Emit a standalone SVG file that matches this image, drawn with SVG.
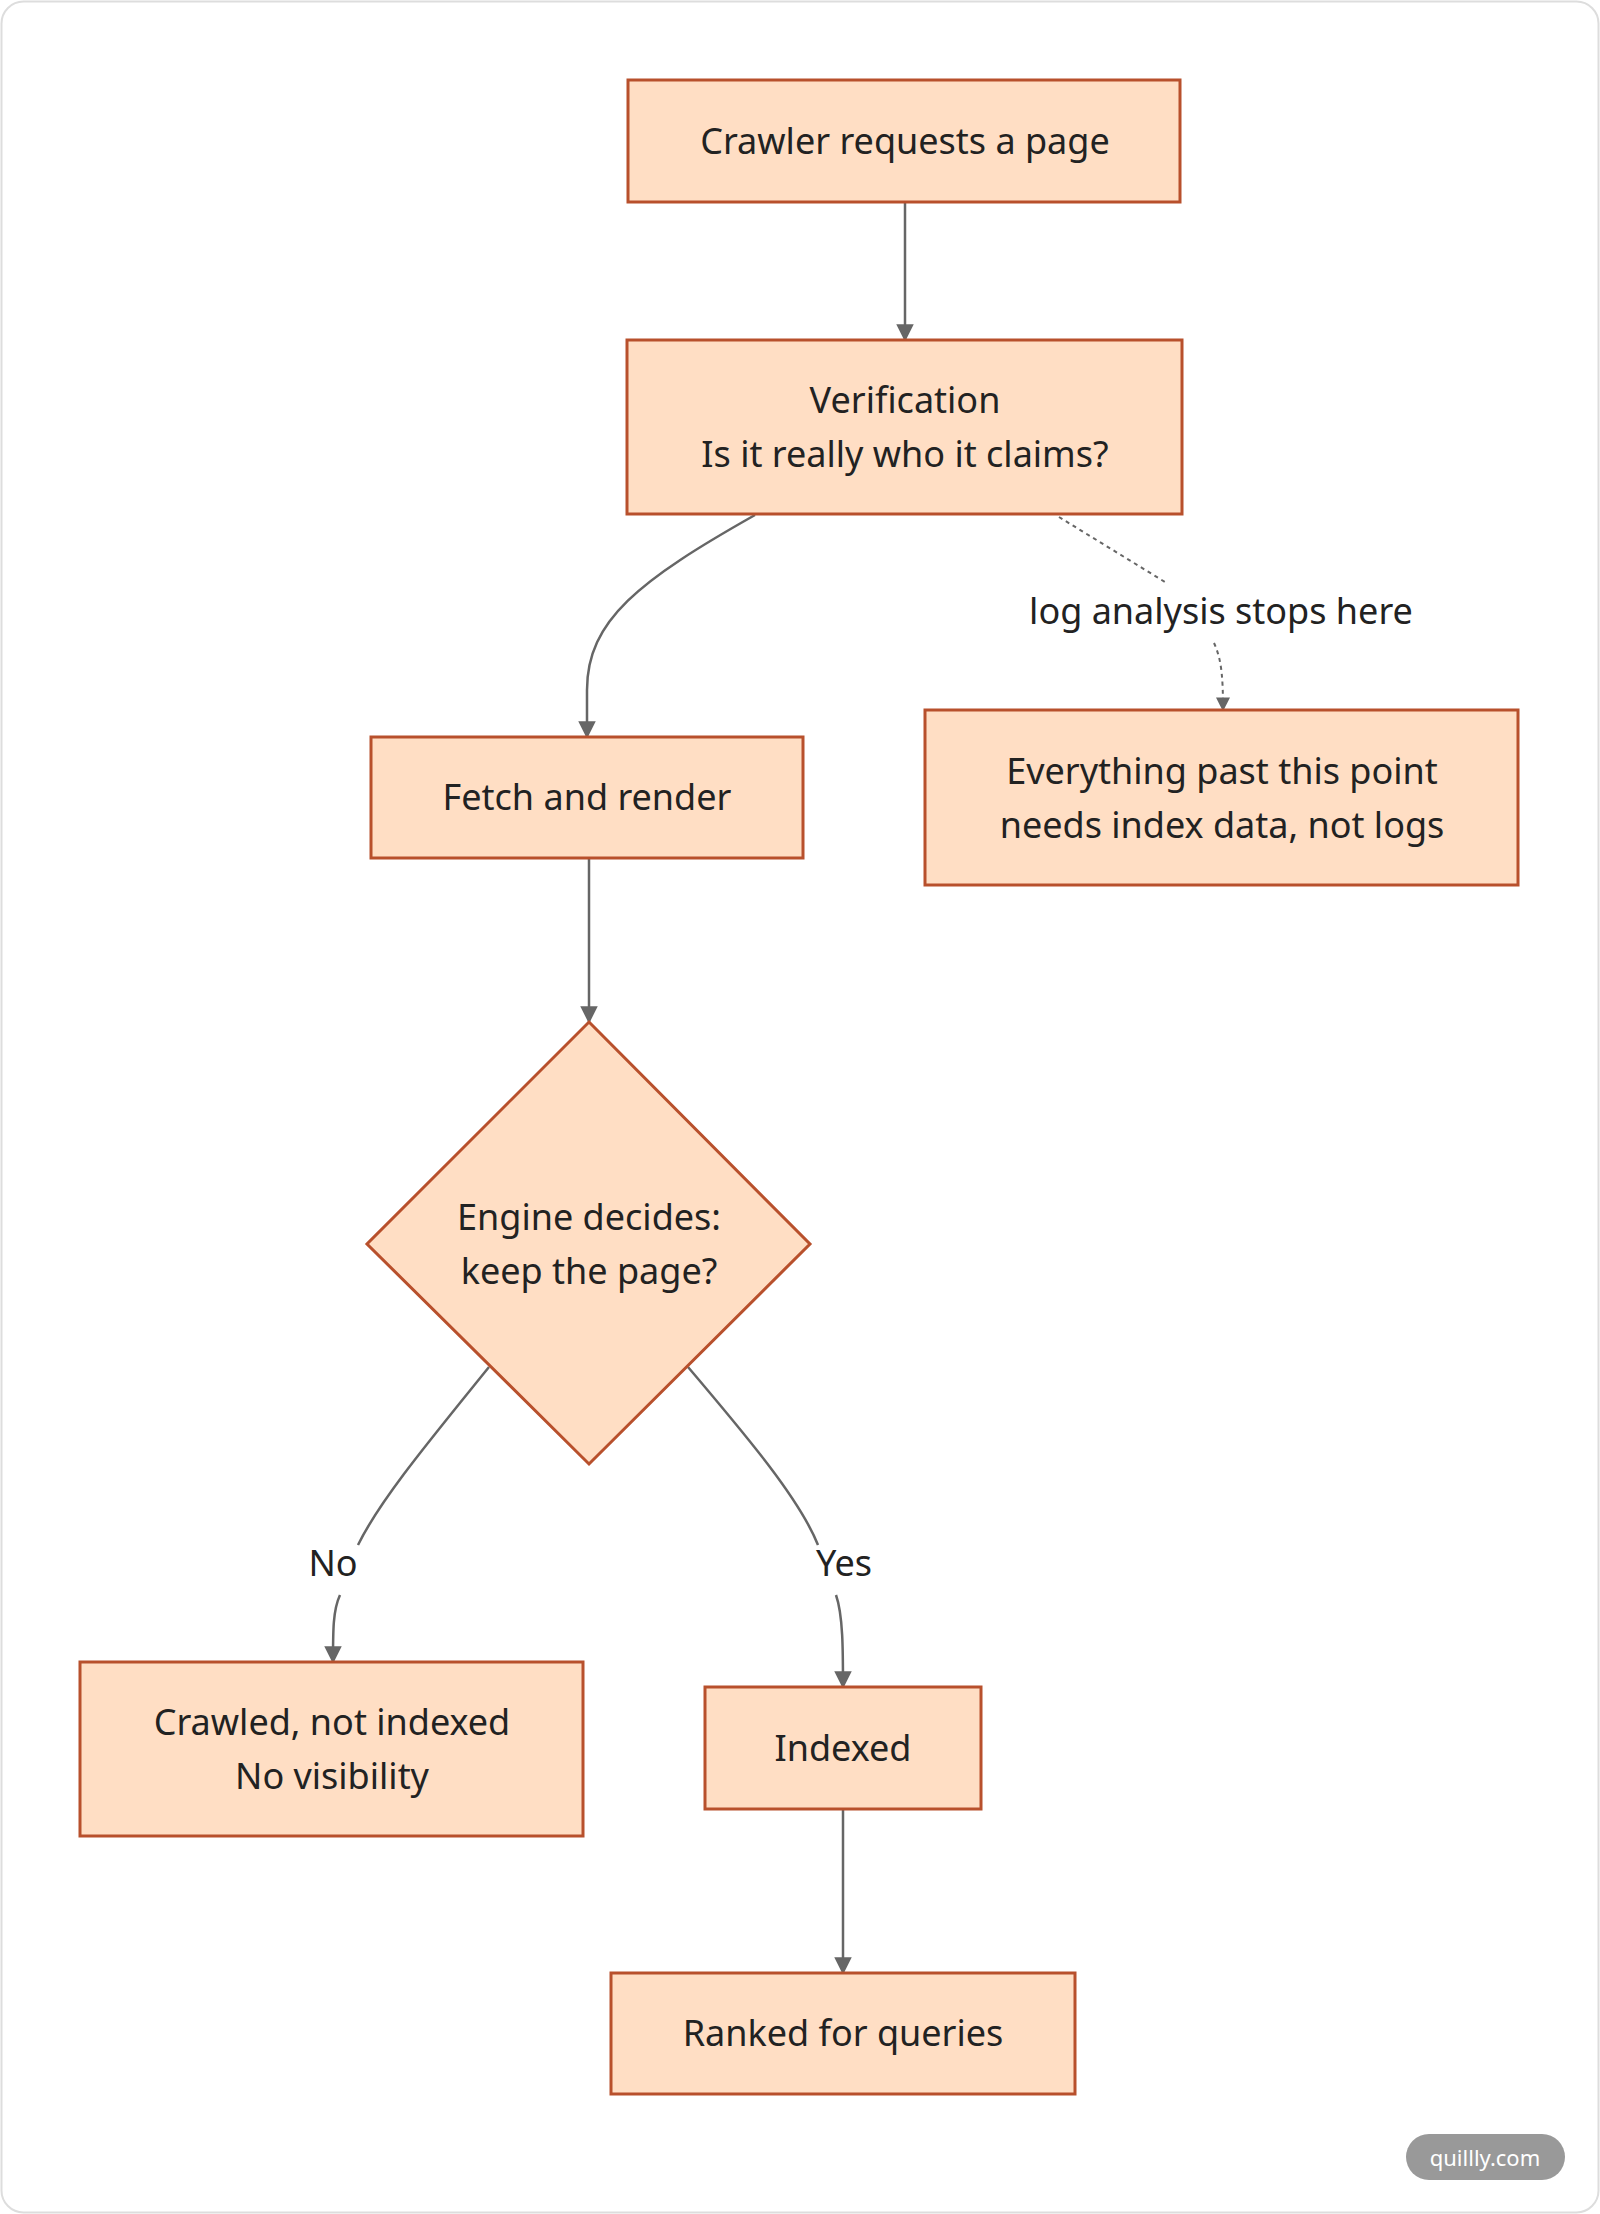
<svg xmlns="http://www.w3.org/2000/svg" width="1600" height="2214" viewBox="0 0 1600 2214">
<style>
.n{fill:#FFDEC4;stroke:#B8502C;stroke-width:3}
.t{font-family:"Noto Sans","Open Sans",sans-serif;font-size:36px;fill:#222;text-anchor:middle}
.e{fill:none;stroke:#666;stroke-width:2.5}
.d{fill:none;stroke:#666;stroke-width:2;stroke-dasharray:4 4}
</style>
<defs><marker id="a" viewBox="0 0 10 10" refX="9" refY="5" markerWidth="7" markerHeight="7" orient="auto"><path d="M0,0L10,5L0,10z" fill="#666"/></marker></defs>
<rect x="1.5" y="1.5" width="1597" height="2211" rx="22" fill="#fff" stroke="#ddd" stroke-width="2"/>
<g id="edges">
<path class="e" d="M905,202V340" marker-end="url(#a)"/>
<path class="e" d="M755,515C640,580 587,620 587,690V737" marker-end="url(#a)"/>
<path class="d" d="M1059,517L1165,582"/>
<path class="d" d="M1214,643C1222,660 1223,680 1223,710" marker-end="url(#a)"/>
<path class="e" d="M589,858V1022" marker-end="url(#a)"/>
<path class="e" d="M489,1367C430,1440 380,1500 358,1545"/>
<path class="e" d="M340,1595C333,1610 333,1630 333,1662" marker-end="url(#a)"/>
<path class="e" d="M688,1367C750,1440 800,1500 818,1545"/>
<path class="e" d="M836,1595C843,1615 843,1650 843,1687" marker-end="url(#a)"/>
<path class="e" d="M843,1809V1973" marker-end="url(#a)"/>
</g>
<text class="t" x="1221" y="624">log analysis stops here</text>
<text class="t" x="333" y="1576">No</text>
<text class="t" x="844" y="1576">Yes</text>
<g id="crawler"><rect class="n" x="628" y="80" width="552" height="122"/><text class="t" x="905" y="154">Crawler requests a page</text></g>
<g id="verify"><rect class="n" x="627" y="340" width="555" height="174"/><text class="t" x="905" y="413">Verification</text><text class="t" x="905" y="467">Is it really who it claims?</text></g>
<g id="fetch"><rect class="n" x="371" y="737" width="432" height="121"/><text class="t" x="587" y="810">Fetch and render</text></g>
<g id="everything"><rect class="n" x="925" y="710" width="593" height="175"/><text class="t" x="1222" y="784">Everything past this point</text><text class="t" x="1222" y="838">needs index data, not logs</text></g>
<g id="decide"><path class="n" d="M589,1022L810,1244L589,1464L367,1244z"/><text class="t" x="589" y="1230">Engine decides:</text><text class="t" x="589" y="1284">keep the page?</text></g>
<g id="notindexed"><rect class="n" x="80" y="1662" width="503" height="174"/><text class="t" x="332" y="1735">Crawled, not indexed</text><text class="t" x="332" y="1789">No visibility</text></g>
<g id="indexed"><rect class="n" x="705" y="1687" width="276" height="122"/><text class="t" x="843" y="1761">Indexed</text></g>
<g id="ranked"><rect class="n" x="611" y="1973" width="464" height="121"/><text class="t" x="843" y="2046">Ranked for queries</text></g>
<rect x="1406" y="2134" width="159" height="46" rx="23" fill="#999"/>
<text x="1485" y="2166" font-family="Noto Sans,sans-serif" font-size="22" fill="#fff" text-anchor="middle">quillly.com</text>
</svg>
